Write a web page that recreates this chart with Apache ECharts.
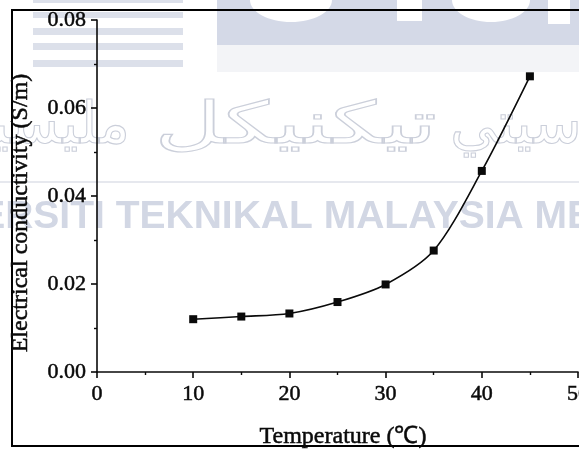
<!DOCTYPE html>
<html>
<head>
<meta charset="utf-8">
<script src="https://cdn.jsdelivr.net/npm/echarts@6/dist/echarts.min.js"></script>
<style>
  html, body { margin: 0; padding: 0; background: #fff; }
  #chart { width: 579px; height: 449px; }
</style>
</head>
<body>
<div id="chart"></div>
<script>
// Measured conductivity against temperature
const temperature = [10, 15, 20, 25, 30, 35, 40, 45];
const conductivity = [0.0120, 0.0126, 0.0133, 0.0159, 0.0199, 0.0276, 0.0457, 0.0672];

// Axis ranges and tick steps
const xRange = [0, 50];
const xStep = 10;
const yRange = [0, 0.08];
const yStep = 0.02;

const xTitle = 'Temperature (℃)';
const yTitle = 'Electrical conductivity (S/m)';

const serif = '"Liberation Serif", "Times New Roman", serif';
const ink = '#0a0a0a';
const wash = '#d4d9e7';
const stripe = '#dce0ea';

const chart = echarts.init(document.getElementById('chart'), null, { renderer: 'canvas' });

// Faint institutional watermark behind the plot
const jawi = (text, x, align, scaleX) => ({
  type: 'text', z: -18, silent: true, x: x, y: 128, scaleX: scaleX,
  style: { text: text, font: '58px "DejaVu Sans"', fill: 'rgba(0,0,0,0)', stroke: '#cbcfda',
           lineWidth: 1.1, align: align, verticalAlign: 'middle' }
});
const watermark = [
  // striped emblem, top left
  ...[[0, 3], [12, 6], [28, 7], [43, 7], [60, 7]].map(([y, h]) => ({
    type: 'rect', z: -20, silent: true,
    shape: { x: 33, y: y, width: 150, height: h },
    style: { fill: stripe }
  })),
  // lettering block, top right
  { type: 'rect', z: -20, silent: true, shape: { x: 217, y: 0, width: 362, height: 45 }, style: { fill: wash } },
  { type: 'rect', z: -20, silent: true, shape: { x: 217, y: 45, width: 362, height: 27 }, style: { fill: '#f3f4f7' } },
  { type: 'ellipse', z: -19, silent: true, shape: { cx: 291, cy: 0, rx: 41, ry: 22 }, style: { fill: '#fff' } },
  { type: 'rect', z: -19, silent: true, shape: { x: 397, y: 0, width: 25, height: 21 }, style: { fill: '#fff' } },
  { type: 'ellipse', z: -19, silent: true, shape: { cx: 491, cy: 0, rx: 39, ry: 22 }, style: { fill: '#fff' } },
  { type: 'rect', z: -19, silent: true, shape: { x: 548, y: 0, width: 22, height: 24 }, style: { fill: '#fff' } },
  // divider
  { type: 'rect', z: -20, silent: true, shape: { x: 0, y: 181, width: 579, height: 2 }, style: { fill: '#e6e8ee' } },
  // Jawi line
  jawi('مليسيا', 130, 'right', 1),
  jawi('تيكنيكل', 437, 'right', 1.6),
  jawi('اونيۏرسيتي', 450, 'left', 1),
  // Latin line
  { type: 'text', z: -18, silent: true, x: -114, y: 217,
    style: { text: 'UNIVERSITI TEKNIKAL MALAYSIA MELAKA', font: 'bold 39px "Liberation Sans"', fill: '#d2d7e4', align: 'left', verticalAlign: 'middle' } }
];

// Slight outline to give the serif text its printed weight
const heavy = { textBorderColor: ink, textBorderWidth: 0.5 };

const axisCommon = {
  type: 'value',
  axisLine: { show: true, lineStyle: { color: ink, width: 1.6 } },
  axisTick: { show: true, inside: false, length: 6, lineStyle: { color: ink, width: 1.6 } },
  minorTick: { show: true, splitNumber: 2, length: 3, lineStyle: { color: ink, width: 1.4 } },
  splitLine: { show: false }
};

const option = {
  backgroundColor: '#fff',
  animation: false,
  grid: { left: 97, right: 1, top: 20, bottom: 77, containLabel: false, outerBoundsMode: 'none' },
  xAxis: Object.assign({}, axisCommon, {
    min: xRange[0], max: xRange[1], interval: xStep,
    axisLabel: Object.assign({ color: ink, fontFamily: serif, fontSize: 22, margin: 11 }, heavy)
  }),
  yAxis: Object.assign({}, axisCommon, {
    min: yRange[0], max: yRange[1], interval: yStep,
    axisLabel: Object.assign({ color: ink, fontFamily: serif, fontSize: 22, margin: 11, formatter: v => v.toFixed(2) }, heavy)
  }),
  graphic: [
    ...watermark,
    // figure frame
    { type: 'rect', z: 10, silent: true, shape: { x: 12, y: 10, width: 620, height: 436 },
      style: { fill: 'none', stroke: '#000', lineWidth: 2 } },
    // axis titles
    { type: 'text', z: 10, silent: true, x: 343, y: 437,
      style: { text: xTitle, font: '24px ' + serif, fill: ink, stroke: ink, lineWidth: 0.5, align: 'center', verticalAlign: 'middle' } },
    { type: 'text', z: 10, silent: true, x: 21, y: 213, rotation: Math.PI / 2,
      style: { text: yTitle, font: '24px ' + serif, fill: ink, stroke: ink, lineWidth: 0.5, align: 'center', verticalAlign: 'middle' } }
  ],
  series: [{
    type: 'line',
    data: temperature.map((t, i) => [t, conductivity[i]]),
    smooth: 0.3,
    symbol: 'rect',
    symbolSize: 8,
    itemStyle: { color: ink },
    lineStyle: { color: ink, width: 1.6 },
    z: 5
  }]
};

chart.setOption(option);
</script>
</body>
</html>
